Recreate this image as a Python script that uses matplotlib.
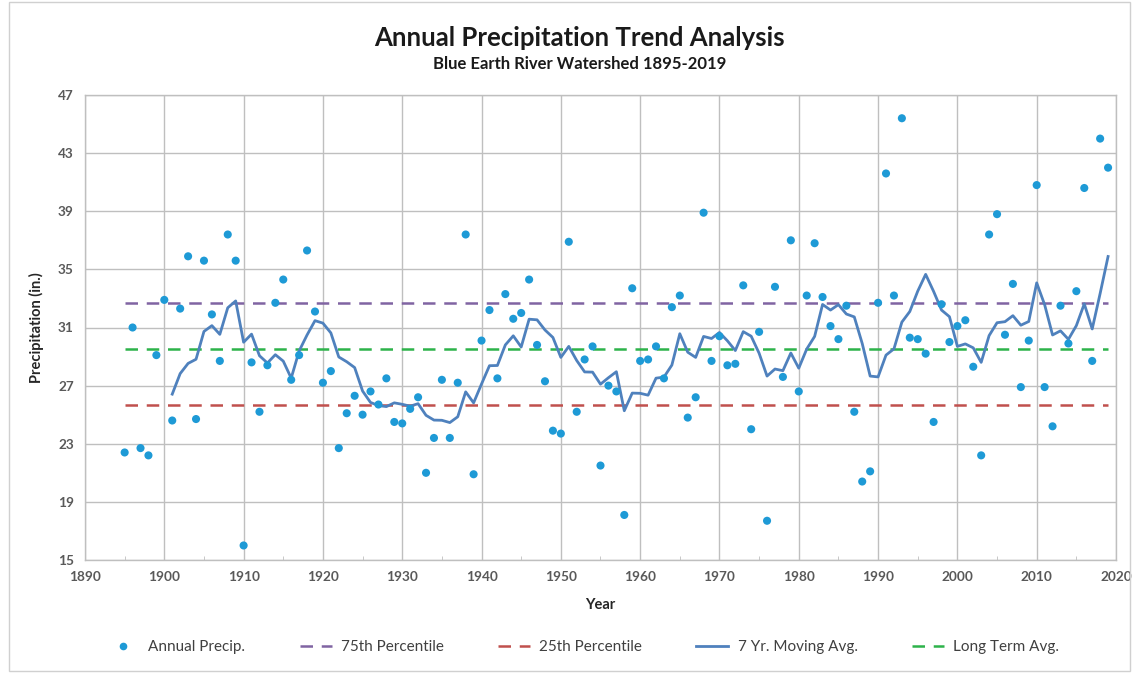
import matplotlib
matplotlib.use("Agg")
import matplotlib.pyplot as plt
import numpy as np
import pandas as pd
from matplotlib.lines import Line2D
from matplotlib.patches import Rectangle

plt.rcParams['font.family'] = ['Lato', 'DejaVu Sans']

years = list(range(1895, 2020))
precip = [
    22.4, 31.0, 22.7, 22.2, 29.1, 32.9, 24.6, 32.3, 35.9, 24.7,   # 1895-1904
    35.6, 31.9, 28.7, 37.4, 35.6, 16.0, 28.6, 25.2, 28.4, 32.7,   # 1905-1914
    34.3, 27.4, 29.1, 36.3, 32.1, 27.2, 28.0, 22.7, 25.1, 26.3,   # 1915-1924
    25.0, 26.6, 25.7, 27.5, 24.5, 24.4, 25.4, 26.2, 21.0, 23.4,   # 1925-1934
    27.4, 23.4, 27.2, 37.4, 20.9, 30.1, 32.2, 27.5, 33.3, 31.6,   # 1935-1944
    32.0, 34.3, 29.8, 27.3, 23.9, 23.7, 36.9, 25.2, 28.8, 29.7,   # 1945-1954
    21.5, 27.0, 26.6, 18.1, 33.7, 28.7, 28.8, 29.7, 27.5, 32.4,   # 1955-1964
    33.2, 24.8, 26.2, 38.9, 28.7, 30.4, 28.4, 28.5, 33.9, 24.0,   # 1965-1974
    30.7, 17.7, 33.8, 27.6, 37.0, 26.6, 33.2, 36.8, 33.1, 31.1,   # 1975-1984
    30.2, 32.5, 25.2, 20.4, 21.1, 32.7, 41.6, 33.2, 45.4, 30.3,   # 1985-1994
    30.2, 29.2, 24.5, 32.6, 30.0, 31.1, 31.5, 28.3, 22.2, 37.4,   # 1995-2004
    38.8, 30.5, 34.0, 26.9, 30.1, 40.8, 26.9, 24.2, 32.5, 29.9,   # 2005-2014
    33.5, 40.6, 28.7, 44.0, 42.0,                                 # 2015-2019
]
pct75 = 32.7
pct25 = 25.65
long_avg = 29.5

xticks = list(range(1890, 2021, 10))
yticks = list(range(15, 48, 4))

s = pd.Series(precip, index=years)
mov = s.rolling(7).mean()

fig = plt.figure(figsize=(11.39, 6.73), dpi=100)
ax = fig.add_axes([85/1139, 1-560/673, (1116-85)/1139, (560-95)/673])

c_dot = '#1E9AD6'
c_mov = '#4F81BD'
c_75 = '#8064A2'
c_25 = '#C0504D'
c_avg = '#2DB34A'

x0, x1 = years[0], years[-1]
ax.plot([x0, x1], [pct75, pct75], color=c_75, lw=1.8, dashes=(5, 3.5), zorder=3)
ax.plot([x0, x1], [pct25, pct25], color=c_25, lw=1.8, dashes=(5, 3.5), zorder=3)
ax.plot([x0, x1], [long_avg, long_avg], color=c_avg, lw=1.8, dashes=(5, 3.5), zorder=3)
ax.plot(mov.index, mov.values, color=c_mov, lw=2.0, zorder=4)
ax.scatter(years, precip, s=34, color=c_dot, edgecolors='none', zorder=5)

ax.set_xlim(1890, 2020)
ax.set_ylim(15, 47)
ax.set_xticks(xticks)
ax.set_yticks(yticks)
ax.set_xticks(list(range(1895, 2020, 10)), minor=True)
ax.grid(True, which='major', color='#BFBFBF', lw=1.0)
ax.set_axisbelow(True)
for sp in ax.spines.values():
    sp.set_color('#BFBFBF')
    sp.set_linewidth(1.0)
ax.tick_params(axis='both', which='major', length=0, labelsize=9.8, labelcolor='#595959', pad=8)
ax.tick_params(axis='x', which='minor', direction='in', length=3, color='#BFBFBF')
for lab in ax.get_xticklabels() + ax.get_yticklabels():
    lab.set_fontweight('bold')

ax.set_xlabel('Year', fontsize=10.5, fontweight='bold', color='#262626', labelpad=11)
ax.set_ylabel('Precipitation (in.)', fontsize=10.5, fontweight='bold', color='#262626', labelpad=10)

fig.text(0.509, 0.944, 'Annual Precipitation Trend Analysis', ha='center', va='center',
         fontsize=18.5, fontweight='bold', color='#1A1A1A')
fig.text(0.509, 0.905, 'Blue Earth River Watershed 1895-2019', ha='center', va='center',
         fontsize=12, fontweight='bold', color='#1A1A1A')

handles = [
    Line2D([], [], ls='none', marker='o', ms=5.5, color=c_dot, mec='none'),
    Line2D([], [], color=c_75, lw=1.8, dashes=(5, 3.5)),
    Line2D([], [], color=c_25, lw=1.8, dashes=(5, 3.5)),
    Line2D([], [], color=c_mov, lw=2.0),
    Line2D([], [], color=c_avg, lw=1.8, dashes=(5, 3.5)),
]
labels = ['Annual Precip.', '75th Percentile', '25th Percentile', '7 Yr. Moving Avg.', 'Long Term Avg.']
leg = fig.legend(handles, labels, loc='center', bbox_to_anchor=(0.512, 0.038), ncol=5,
                 frameon=False, fontsize=11, handlelength=2.1, columnspacing=3.55,
                 handletextpad=0.6)
for t in leg.get_texts():
    t.set_color('#404040')

fig.patches.append(Rectangle((9/1139, 0.003), 1-18/1139, 0.994, transform=fig.transFigure,
                             fill=False, edgecolor='#D0D0D0', lw=1.0))

fig.savefig('out.png', dpi=100)
